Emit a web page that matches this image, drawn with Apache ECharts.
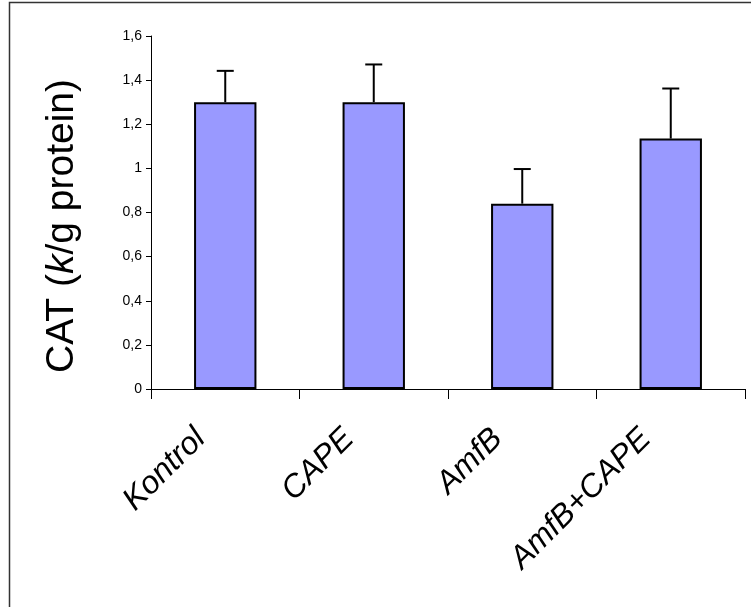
<!DOCTYPE html>
<html>
<head>
<meta charset="utf-8">
<script src="https://cdn.jsdelivr.net/npm/echarts@6/dist/echarts.min.js"></script>
<style>
html,body{margin:0;padding:0;background:#fff;}
#chart{width:751px;height:607px;}
</style>
</head>
<body>
<div id="chart"></div>
<script>
var categories = ['Kontrol', 'CAPE', 'AmfB', 'AmfB+CAPE'];
var means = [1.30, 1.30, 0.84, 1.135];
var errors = [0.142, 0.171, 0.157, 0.227];
var yTicks = { min: 0, max: 1.6, interval: 0.2 };

var FONT = "'Liberation Sans', Arial, sans-serif";
var chart = echarts.init(document.getElementById('chart'), null, { renderer: 'canvas' });

var errData = categories.map(function (c, i) { return [i, means[i], errors[i]]; });

chart.setOption({
  backgroundColor: '#fff',
  animation: false,
  graphic: [{
    type: 'rect',
    shape: { x: 9.5, y: 2.5, width: 800, height: 700 },
    style: { fill: 'none', stroke: '#333', lineWidth: 1.5 },
    silent: true
  }],
  grid: { left: 151, right: 6, top: 36, bottom: 218, containLabel: false },
  xAxis: {
    type: 'category',
    data: categories,
    boundaryGap: true,
    axisLine: { show: true, lineStyle: { color: '#000', width: 1 } },
    axisTick: { show: true, inside: false, length: 10, interval: 0, alignWithLabel: false, lineStyle: { color: '#000', width: 1 } },
    axisLabel: {
      interval: 0,
      rotate: 45,
      margin: 20,
      color: '#000',
      fontFamily: FONT,
      fontStyle: 'italic',
      fontSize: 32,
      padding: [0, 35, 0, 0]
    },
    splitLine: { show: false }
  },
  yAxis: {
    type: 'value',
    min: yTicks.min,
    max: yTicks.max,
    interval: yTicks.interval,
    name: '{n|CAT (}{i|k}{n|/g protein)}',
    nameLocation: 'middle',
    nameGap: 69,
    nameRotate: 90,
    nameTextStyle: {
      padding: [0, 27, 0, 0],
      rich: {
        n: { fontFamily: FONT, fontSize: 39, color: '#000' },
        i: { fontFamily: FONT, fontSize: 39, color: '#000', fontStyle: 'italic' }
      }
    },
    axisLine: { show: true, lineStyle: { color: '#000', width: 1 } },
    axisTick: { show: true, inside: false, length: 5, lineStyle: { color: '#000', width: 1 } },
    axisLabel: {
      margin: 9,
      color: '#000',
      fontFamily: FONT,
      fontSize: 14,
      formatter: function (v) { return String(Math.round(v * 10) / 10).replace('.', ','); }
    },
    splitLine: { show: false }
  },
  series: [{
    type: 'bar',
    data: means,
    barWidth: '42%',
    itemStyle: { color: '#9999FF', borderColor: '#000', borderWidth: 2 },
    z: 2
  }, {
    type: 'custom',
    data: errData,
    z: 3,
    renderItem: function (params, api) {
      var i = api.value(0), m = api.value(1), e = api.value(2);
      var base = api.coord([i, m]);
      var top = api.coord([i, m + e]);
      var half = 8.5;
      return {
        type: 'group',
        children: [{
          type: 'line',
          shape: { x1: base[0], y1: base[1], x2: top[0], y2: top[1] },
          style: { stroke: '#000', lineWidth: 2 }
        }, {
          type: 'line',
          shape: { x1: top[0] - half, y1: top[1], x2: top[0] + half, y2: top[1] },
          style: { stroke: '#000', lineWidth: 2 }
        }]
      };
    }
  }]
});
</script>
</body>
</html>
